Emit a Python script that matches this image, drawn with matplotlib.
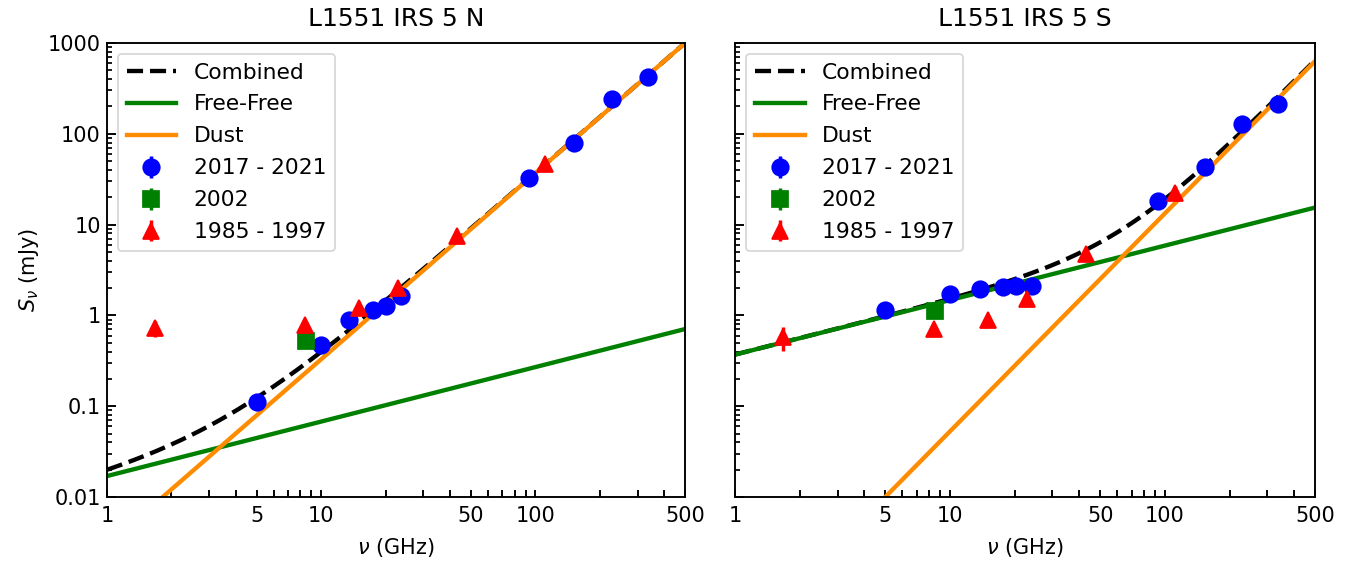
import numpy as np
import matplotlib
matplotlib.use("Agg")
import matplotlib.pyplot as plt
from matplotlib.ticker import FuncFormatter, LogLocator, NullFormatter

plt.rcParams['font.size'] = 12

# --- L1551 IRS 5 N ---
n_new_freq = [5.0, 10.0, 13.5, 17.5, 20.0, 23.5, 93.0, 151.0, 228.0, 336.0]
n_new_flux = [0.112, 0.47, 0.88, 1.16, 1.27, 1.62, 32.5, 79.0, 242.0, 425.0]
n_new_err = [0.01, 0.03, 0.06, 0.07, 0.08, 0.1, 2.0, 5.0, 15.0, 25.0]

n_2002_freq = [8.5]
n_2002_flux = [0.52]
n_2002_err = [0.04]

n_old_freq = [1.67, 8.4, 15.0, 22.8, 43.0, 111.0]
n_old_flux = [0.72, 0.79, 1.2, 2.0, 7.4, 46.0]
n_old_err = [0.14, 0.05, 0.08, 0.15, 0.5, 4.0]

n_ff_amp, n_ff_idx = 0.017, 0.6
n_dust_amp, n_dust_idx = 0.00293, 2.05

# --- L1551 IRS 5 S ---
s_new_freq = [5.0, 10.0, 13.8, 17.6, 20.2, 24.0, 93.0, 153.0, 228.0, 336.0]
s_new_flux = [1.15, 1.74, 1.97, 2.08, 2.12, 2.12, 18.4, 43.0, 128.0, 212.0]
s_new_err = [0.07, 0.1, 0.1, 0.1, 0.1, 0.12, 1.5, 3.0, 10.0, 15.0]

s_2002_freq = [8.5]
s_2002_flux = [1.12]
s_2002_err = [0.07]

s_old_freq = [1.67, 8.4, 15.0, 22.8, 43.0, 111.0]
s_old_flux = [0.58, 0.7, 0.88, 1.5, 4.8, 22.5]
s_old_err = [0.17, 0.05, 0.07, 0.12, 0.4, 4.0]

s_ff_amp, s_ff_idx = 0.37, 0.6
s_dust_amp, s_dust_idx = 2.1e-4, 2.4


def draw_panel(ax, title, new, y2002, old, ff, dust):
    nu = np.logspace(0, np.log10(500), 300)
    s_ff = ff[0] * nu ** ff[1]
    s_dust = dust[0] * nu ** dust[1]
    ax.plot(nu, s_ff + s_dust, 'k--', lw=2.5, label='Combined')
    ax.plot(nu, s_ff, color='green', lw=2.5, label='Free-Free')
    ax.plot(nu, s_dust, color='darkorange', lw=2.5, label='Dust')
    ax.errorbar(new[0], new[1], yerr=new[2], fmt='o', color='blue', ms=9.5,
                elinewidth=2, label='2017 - 2021', zorder=4)
    ax.errorbar(y2002[0], y2002[1], yerr=y2002[2], fmt='s', color='green', ms=9.5,
                elinewidth=2, label='2002', zorder=4)
    ax.errorbar(old[0], old[1], yerr=old[2], fmt='^', color='red', ms=9.5,
                elinewidth=2, label='1985 - 1997', zorder=4)

    ax.set_xscale('log')
    ax.set_yscale('log')
    ax.set_xlim(1, 500)
    ax.set_ylim(0.01, 1000)
    ax.set_title(title, fontsize=14.4, pad=10)
    ax.set_xlabel(r'$\nu$ (GHz)', labelpad=6)
    ax.set_xticks([1, 5, 10, 50, 100, 500])
    ax.set_xticklabels(['1', '5', '10', '50', '100', '500'])
    ax.xaxis.set_minor_locator(LogLocator(base=10, subs=np.arange(2, 10)))
    ax.xaxis.set_minor_formatter(NullFormatter())
    ax.yaxis.set_minor_locator(LogLocator(base=10, subs=np.arange(2, 10)))
    ax.yaxis.set_minor_formatter(NullFormatter())
    ax.yaxis.set_major_formatter(FuncFormatter(lambda v, p: '%g' % v))
    ax.tick_params(which='both', direction='in', top=False, right=False)
    ax.tick_params(axis='x', which='both', length=4.3, width=1.1, pad=5)
    ax.tick_params(axis='y', which='major', length=5, width=1.1)
    ax.tick_params(axis='y', which='minor', length=3, width=1)
    for sp in ax.spines.values():
        sp.set_linewidth(1.1)
    ax.legend(loc='upper left', fontsize=12.5, handlelength=2.3,
              labelspacing=0.55)


fig = plt.figure(figsize=(10.904, 4.496), dpi=125)
ax1 = fig.add_axes([0.0785, 0.1157, 0.4241, 0.8078])
ax2 = fig.add_axes([0.5393, 0.1157, 0.4255, 0.8078])

draw_panel(ax1, 'L1551 IRS 5 N', (n_new_freq, n_new_flux, n_new_err),
           (n_2002_freq, n_2002_flux, n_2002_err),
           (n_old_freq, n_old_flux, n_old_err),
           (n_ff_amp, n_ff_idx), (n_dust_amp, n_dust_idx))
draw_panel(ax2, 'L1551 IRS 5 S', (s_new_freq, s_new_flux, s_new_err),
           (s_2002_freq, s_2002_flux, s_2002_err),
           (s_old_freq, s_old_flux, s_old_err),
           (s_ff_amp, s_ff_idx), (s_dust_amp, s_dust_idx))

ax1.set_ylabel(r'$S_\nu$ (mJy)')
ax2.set_yticklabels([])

fig.savefig('out.png', dpi=125)
